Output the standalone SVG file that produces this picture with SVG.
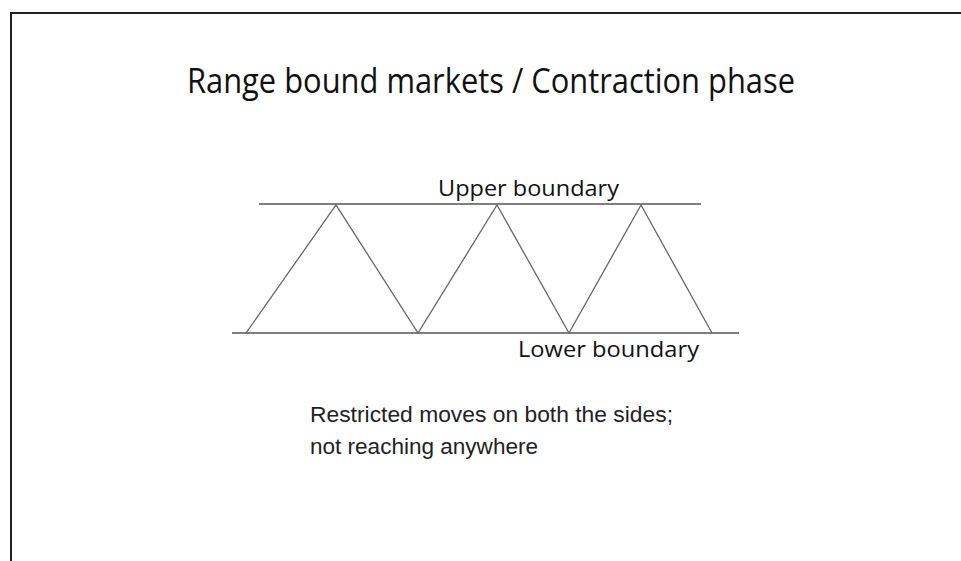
<svg xmlns="http://www.w3.org/2000/svg" width="961" height="561" viewBox="0 0 961 561">
<style>
.title{font-family:"Open Sans","Noto Sans",sans-serif;font-size:34px;fill:#111}
.lbl{font-family:"Open Sans","Noto Sans",sans-serif;font-size:21px;fill:#111}
.note{font-family:"Liberation Sans",Arial,sans-serif;font-size:22.5px;fill:#222}
.bound{stroke:#555;stroke-width:1.6;fill:none}
.zig{stroke:#666;stroke-width:1.3;fill:none}
</style>
<rect width="961" height="561" fill="#fff"/>
<path d="M11 561 V13 H961" fill="none" stroke="#222" stroke-width="2"/>
<text class="title" x="187" y="93" textLength="608" lengthAdjust="spacingAndGlyphs">Range bound markets / Contraction phase</text>
<g id="upper">
<line class="bound" x1="259" y1="204" x2="701" y2="204"/>
<text class="lbl" x="438" y="196" textLength="181" lengthAdjust="spacingAndGlyphs">Upper boundary</text>
</g>
<g id="lower">
<line class="bound" x1="232" y1="333" x2="739" y2="333"/>
<text class="lbl" x="518" y="357" textLength="181" lengthAdjust="spacingAndGlyphs">Lower boundary</text>
</g>
<g id="connectors">
<polyline class="zig" points="246,333 336,205 418,333 497,205 569,333 641,205 712,333"/>
</g>
<g id="note">
<text class="note" x="310" y="422" textLength="363" lengthAdjust="spacingAndGlyphs">Restricted moves on both the sides;</text>
<text class="note" x="310" y="454" textLength="228" lengthAdjust="spacingAndGlyphs">not reaching anywhere</text>
</g>
</svg>
